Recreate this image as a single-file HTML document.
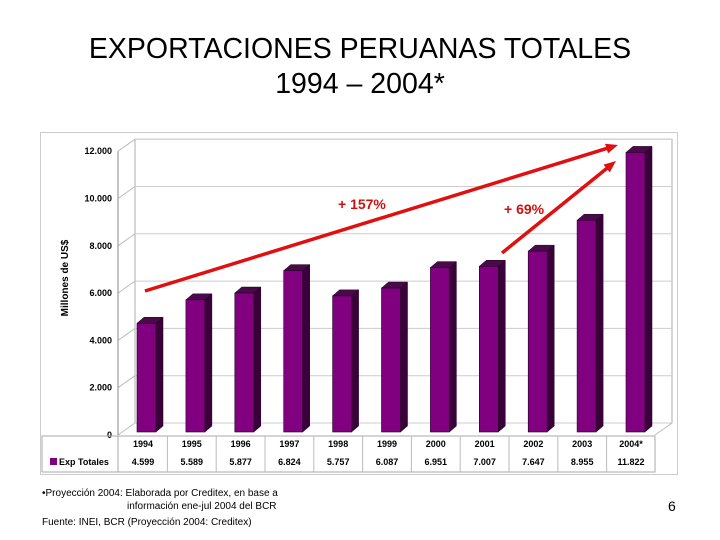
<!DOCTYPE html>
<html><head><meta charset="utf-8"><style>
body{margin:0;width:720px;height:540px;background:#fff;position:relative;overflow:hidden;font-family:"Liberation Sans",sans-serif}
.t{position:absolute;white-space:nowrap}
</style></head><body>
<div class="t" style="left:0;width:720px;top:32px;text-align:center;font-size:28.5px;line-height:35px;color:#000">EXPORTACIONES PERUANAS TOTALES<br>1994 – 2004*</div>
<svg id="c" width="720" height="540" style="position:absolute;left:0;top:0" font-family="Liberation Sans, sans-serif"></svg>
<div class="t" style="left:42px;top:487px;font-size:10px;line-height:13px">•Proyección 2004: Elaborada por Creditex, en base a<br><span style="padding-left:85px">información ene-jul 2004 del BCR</span></div>
<div class="t" style="left:42px;top:517px;font-size:10px">Fuente: INEI, BCR (Proyección 2004: Creditex)</div>
<div class="t" style="left:668px;top:498px;font-size:14px">6</div>
<script>
const years=["1994","1995","1996","1997","1998","1999","2000","2001","2002","2003","2004*"];
const values=[4599,5589,5877,6824,5757,6087,6951,7007,7647,8955,11822];
const valueLabels=["4.599","5.589","5.877","6.824","5.757","6.087","6.951","7.007","7.647","8.955","11.822"];
const ticks=[0,2000,4000,6000,8000,10000,12000];
const tickLabels=["0","2.000","4.000","6.000","8.000","10.000","12.000"];
const NS="http://www.w3.org/2000/svg",svg=document.getElementById('c');
function mk(t,a,txt){const e=document.createElementNS(NS,t);for(const k in a)e.setAttribute(k,a[k]);if(txt!=null)e.textContent=txt;svg.appendChild(e);return e;}
const y0=435,ys=47.3/2000,DX=17,DY=-12;
const y=v=>y0-v*ys;
const x=i=>137+i*48.9;
let e=mk('rect',{x:40.5,y:132.5,width:637,height:342,fill:'#fff',stroke:'#ccc'});

mk('rect',{x:118+DX,y:y(12000)+DY,width:537,height:y(0)-y(12000),fill:'#fff',stroke:'#999','stroke-width':0.8});
ticks.forEach((t,i)=>{
 e=mk('line',{x1:118+DX,x2:655+DX,y1:y(t)+DY,y2:y(t)+DY,stroke:'#ccc'});
 
 mk('line',{x1:118,x2:118+DX,y1:y(t),y2:y(t)+DY,stroke:'#bbb'});
 e=mk('text',{x:112,y:y(t)+3,'text-anchor':'end','font-size':9,'font-weight':'bold'},tickLabels[i]);
 
});
mk('line',{x1:118,x2:118,y1:y(12000),y2:y(0),stroke:'#888'});
mk('line',{x1:655,x2:655+DX,y1:y(0),y2:y(0)+DY,stroke:'#bbb'});
e=mk('text',{x:68,y:278,'text-anchor':'middle','font-size':10,'font-weight':'bold',transform:'rotate(-90 68 278)'},'Millones de US$');

values.forEach((v,i)=>{
 const bx=x(i),w=19,top=y(v)-3,bot=432,d=7,h=6;
 e=mk('polygon',{points:`${bx},${top} ${bx+d},${top-h} ${bx+w+d},${top-h} ${bx+w},${top}`,fill:'#4a0a4a',stroke:'#200020','stroke-width':0.5});
 
 e=mk('polygon',{points:`${bx+w},${top} ${bx+w+d},${top-h} ${bx+w+d},${bot-h} ${bx+w},${bot}`,fill:'#3a003a',stroke:'#200020','stroke-width':0.5});
 
 e=mk('rect',{x:bx,y:top,width:w,height:bot-top,fill:'#800080',stroke:'#200020','stroke-width':0.6});
 
});
mk('rect',{x:42,y:436,width:613,height:36,fill:'none',stroke:'#aaa'});
mk('line',{x1:118,x2:118,y1:436,y2:472,stroke:'#aaa'});
years.forEach((yr,i)=>{
 const cx=143+i*48.8;
 if(i>0)mk('line',{x1:cx-24.4,x2:cx-24.4,y1:436,y2:472,stroke:'#bbb'});
 e=mk('text',{x:cx,y:447,'text-anchor':'middle','font-size':9,'font-weight':'bold'},yr);
 
 e=mk('text',{x:cx,y:465,'text-anchor':'middle','font-size':9,'font-weight':'bold'},valueLabels[i]);
 
});
e=mk('rect',{x:50,y:458,width:7,height:7,fill:'#800080'});

e=mk('text',{x:59,y:465,'font-size':9,'font-weight':'bold'},'Exp Totales');

function arrow(x1,y1,x2,y2,name){
 const a=Math.atan2(y2-y1,x2-x1),L=12,W=5;
 e=mk('line',{x1,y1,x2:x2-Math.cos(a)*8,y2:y2-Math.sin(a)*8,stroke:'#e01010','stroke-width':3.5});
 
 mk('polygon',{points:`${x2},${y2} ${x2-L*Math.cos(a)+W*Math.sin(a)},${y2-L*Math.sin(a)-W*Math.cos(a)} ${x2-L*Math.cos(a)-W*Math.sin(a)},${y2-L*Math.sin(a)+W*Math.cos(a)}`,fill:'#e01010'});
}
arrow(145,291,618,145,'growth-arrow-157');
arrow(502,253,616,161,'growth-arrow-69');
e=mk('text',{x:338,y:209,'font-size':14,'font-weight':'bold',fill:'#d01010'},'+ 157%');

e=mk('text',{x:504,y:214,'font-size':14,'font-weight':'bold',fill:'#d01010'},'+ 69%');

</script>
</body></html>
